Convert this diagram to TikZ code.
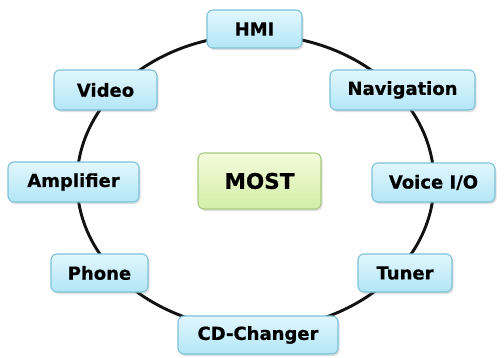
\documentclass[tikz,border=0pt]{standalone}
\usepackage{fontspec}
\setmainfont{DejaVu Sans}[BoldFeatures={FakeBold=0.6}]
\usetikzlibrary{shadows}
\definecolor{unittop}{HTML}{E2F7FD}
\definecolor{unitbot}{HTML}{B2E6F7}
\definecolor{unitedge}{HTML}{7DC2D8}
\definecolor{hubtop}{HTML}{F4FBDC}
\definecolor{hubbot}{HTML}{D2EEA6}
\definecolor{hubedge}{HTML}{A9CB7E}
\definecolor{ring}{HTML}{111111}
\tikzset{
  unit/.style={draw=unitedge, line width=1.1pt, rounded corners=6pt,
    top color=unittop, bottom color=unitbot,
    drop shadow={shadow xshift=1.5pt, shadow yshift=-2pt, opacity=0.25},
    font=\fontsize{18}{20}\selectfont\bfseries, text=black,
    inner sep=0pt, minimum height=38pt},
  hub/.style={unit, draw=hubedge, top color=hubtop, bottom color=hubbot,
    font=\fontsize{21.5}{24}\selectfont\bfseries},
  ringline/.style={draw=ring, line width=2.9pt}
}
\begin{document}
\begin{tikzpicture}[x=1pt,y=-1pt]
  \useasboundingbox (0,0) rectangle (504,357);
  % the bus ring behind the units
  \coordinate (ringc) at (255.5,182);
  \draw[ringline] (ringc) ellipse [x radius=178.5pt, y radius=147pt];
  % units on the ring
  \node[unit, minimum width=95pt]  (hmi)   at (254.5,29)  {HMI};
  \node[unit, minimum width=145pt, minimum height=40pt] (nav) at (402.5,90) {Navigation};
  \node[unit, minimum width=123pt, minimum height=39pt] (voice) at (433.5,182.5) {Voice I/O};
  \node[unit, minimum width=94pt]  (tuner) at (405,273)   {Tuner};
  \node[unit, minimum width=160pt] (cd)    at (258,335)   {CD-Changer};
  \node[unit, minimum width=97pt]  (phone) at (99.5,273)  {Phone};
  \node[unit, minimum width=131pt, minimum height=40pt] (amp) at (73.5,182) {Amplifier};
  \node[unit, minimum width=103pt, minimum height=40pt] (video) at (105.5,90) {Video};
  % centre label
  \node[hub, minimum width=123pt, minimum height=56pt] (most) at (259.5,181) {MOST};
\end{tikzpicture}
\end{document}
